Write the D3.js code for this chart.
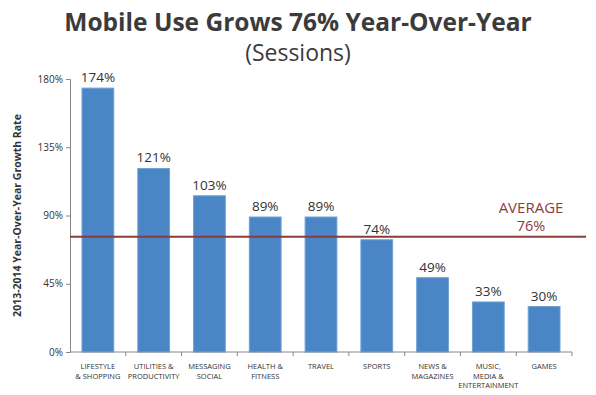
<!DOCTYPE html>
<html>
<head>
  <meta charset="utf-8">
  <script src="https://cdn.jsdelivr.net/npm/d3@7"></script>
  <style>
    html, body {
        margin: 0px;
        padding: 0px;
        background: #fff;
    }
    svg text {
        font-family: "Open Sans", "DejaVu Sans", sans-serif;
    }
  </style>
  <title></title>
</head>
<body>
<div id="chart"></div>
<script>
    // Data
    var categories = [
        ["LIFESTYLE", "& SHOPPING"],
        ["UTILITIES &", "PRODUCTIVITY"],
        ["MESSAGING", "SOCIAL"],
        ["HEALTH &", "FITNESS"],
        ["TRAVEL"],
        ["SPORTS"],
        ["NEWS &", "MAGAZINES"],
        ["MUSIC,", "MEDIA &", "ENTERTAINMENT"],
        ["GAMES"]
    ];
    var growth = [174, 121, 103, 89, 89, 74, 49, 33, 30];
    var average = 76;
    var yTicks = [0, 45, 90, 135, 180];

    var width = 596, height = 395;
    var plotLeft = 70, plotRight = 572, plotTop = 79, plotBottom = 352;

    var svg = d3.select("#chart").append("svg")
        .attr("width", width)
        .attr("height", height);

    // Title
    svg.append("text")
        .attr("x", 298).attr("y", 31)
        .attr("text-anchor", "middle")
        .style("font-size", "24.5px").style("font-weight", "bold")
        .style("fill", "#3b3b3b")
        .text("Mobile Use Grows 76% Year-Over-Year");
    svg.append("text")
        .attr("x", 298).attr("y", 61)
        .attr("text-anchor", "middle")
        .style("font-size", "23px")
        .style("fill", "#3b3b3b")
        .text("(Sessions)");

    var x = d3.scaleBand()
        .domain(d3.range(categories.length))
        .range([plotLeft, plotRight])
        .paddingInner(0.43)
        .paddingOuter(0.215);

    var y = d3.scaleLinear().domain([0, 180]).range([plotBottom, plotTop]);

    // Bars
    svg.selectAll(".bar")
        .data(growth)
        .enter().append("rect")
        .attr("class", "bar")
        .attr("x", function(d, i) { return x(i); })
        .attr("y", function(d) { return y(d); })
        .attr("width", x.bandwidth())
        .attr("height", function(d) { return y(0) - y(d); })
        .style("fill", "#4a85c6")
        .style("stroke", "#6fa3d8")
        .style("stroke-width", 1);

    // Value labels
    svg.selectAll(".val")
        .data(growth)
        .enter().append("text")
        .attr("x", function(d, i) { return x(i) + x.bandwidth() / 2; })
        .attr("y", function(d) { return y(d) - 6; })
        .attr("text-anchor", "middle")
        .style("font-size", "13.5px")
        .style("fill", "#333")
        .text(function(d) { return d + "%"; });

    // Y axis
    var yAxis = svg.append("g")
        .attr("transform", "translate(" + plotLeft + ",0)")
        .call(d3.axisLeft(y).tickValues(yTicks).tickSize(4).tickPadding(3)
            .tickFormat(function(d) { return d + "%"; }));
    yAxis.selectAll("text").style("font-size", "10px").style("fill", "#333");
    yAxis.selectAll("line, path").style("stroke", "#888");

    // X axis with ticks between bands
    var step = (plotRight - plotLeft) / categories.length;
    svg.append("line")
        .attr("x1", plotLeft).attr("x2", plotRight)
        .attr("y1", plotBottom).attr("y2", plotBottom)
        .style("stroke", "#888");
    svg.selectAll(".xtick")
        .data(d3.range(1, categories.length + 1))
        .enter().append("line")
        .attr("x1", function(d) { return plotLeft + d * step; })
        .attr("x2", function(d) { return plotLeft + d * step; })
        .attr("y1", plotBottom).attr("y2", plotBottom + 4)
        .style("stroke", "#888");

    // Category labels
    var labels = svg.selectAll(".cat")
        .data(categories)
        .enter().append("text")
        .attr("text-anchor", "middle")
        .style("font-size", "7.5px")
        .style("fill", "#333");
    labels.selectAll("tspan")
        .data(function(d, i) { return d.map(function(t) { return {t: t, i: i}; }); })
        .enter().append("tspan")
        .attr("x", function(d) { return x(d.i) + x.bandwidth() / 2; })
        .attr("y", function(d, j) { return 369 + j * 9.5; })
        .text(function(d) { return d.t; });

    // Y axis title
    svg.append("text")
        .attr("transform", "translate(21," + ((plotTop + plotBottom) / 2) + ") rotate(-90)")
        .attr("text-anchor", "middle")
        .style("font-size", "10.5px").style("font-weight", "bold")
        .style("fill", "#333")
        .text("2013-2014 Year-Over-Year Growth Rate");

    // Average line
    svg.append("line")
        .attr("x1", plotLeft).attr("x2", 586)
        .attr("y1", y(average)).attr("y2", y(average))
        .style("stroke", "#8c3b3b")
        .style("stroke-width", 2);
    svg.append("text")
        .attr("x", 531).attr("y", 213)
        .attr("text-anchor", "middle")
        .style("font-size", "15px")
        .style("fill", "#8c3b3b")
        .text("AVERAGE");
    svg.append("text")
        .attr("x", 531).attr("y", 231)
        .attr("text-anchor", "middle")
        .style("font-size", "14.5px")
        .style("fill", "#8c3b3b")
        .text(average + "%");
</script>
</body>
</html>
